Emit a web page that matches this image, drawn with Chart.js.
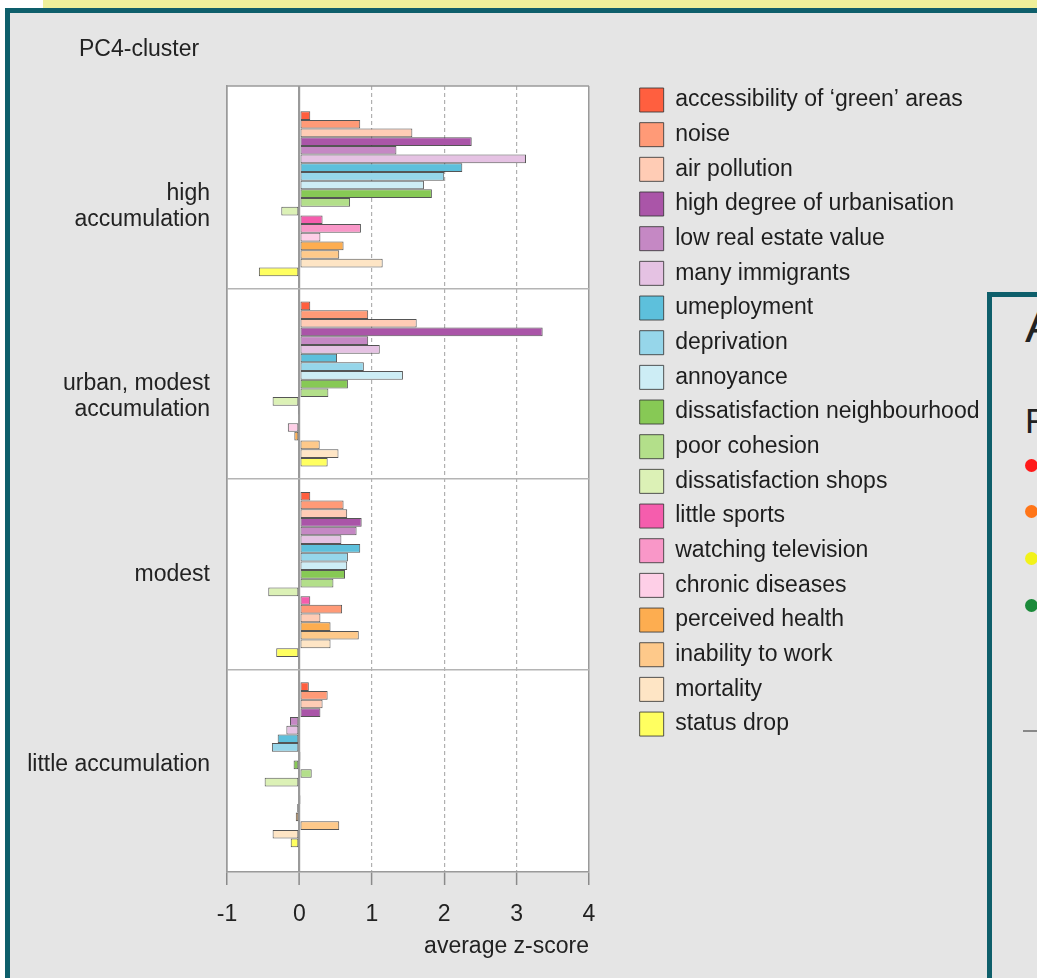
<!DOCTYPE html>
<html>
<head>
<meta charset="utf-8">
<script src="https://cdn.jsdelivr.net/npm/chart.js@4.4.1/dist/chart.umd.min.js"></script>
<style>
html, body { margin: 0; padding: 0; }
body { width: 1037px; height: 978px; overflow: hidden; position: relative; background: #ffffff; font-family: "Liberation Sans", Arial, sans-serif; }
#band { position: absolute; left: 43px; top: 0; width: 1000px; height: 8px; background: #eef09a; }
#frame { position: absolute; left: 5px; top: 8px; width: 1100px; height: 1100px; border-left: 5px solid #0e5f6b; border-top: 5px solid #0e5f6b; background: #e5e5e5; }
#c { position: absolute; left: 0; top: 0; }
#panel { position: absolute; left: 987px; top: 292px; width: 300px; height: 800px; border: 5px solid #0e5f6b; background: #e5e5e5; overflow: hidden; color: #222; }
#panel .big { position: absolute; left: 33px; top: 5px; font-size: 48px; line-height: 48px; }
#panel .mid { position: absolute; left: 33px; top: 106px; font-size: 35px; line-height: 35px; }
#panel .dot { position: absolute; left: 33px; width: 13px; height: 13px; border-radius: 50%; }
#panel .rule { position: absolute; left: 31px; top: 433px; width: 120px; height: 2px; background: #888; }
</style>
</head>
<body>
<div id="band"></div>
<div id="frame"></div>
<canvas id="c" width="1037" height="978"></canvas>
<div id="panel">
  <div class="big">A</div>
  <div class="mid">F</div>
  <div class="dot" style="top:162px;background:#ff1a1a"></div>
  <div class="dot" style="top:208px;background:#ff7518"></div>
  <div class="dot" style="top:255px;background:#f2f21a"></div>
  <div class="dot" style="top:302px;background:#1b8a3a"></div>
  <div class="rule"></div>
</div>
<script>
// ---- data ----
const categories = [['', 'high', 'accumulation'], ['', 'urban, modest', 'accumulation'], 'modest', 'little accumulation'];
const xTicks = [-1, 0, 1, 2, 3, 4];

const seriesNames = [
  'accessibility of \u2018green\u2019 areas', 'noise', 'air pollution', 'high degree of urbanisation',
  'low real estate value', 'many immigrants', 'umeployment', 'deprivation', 'annoyance',
  'dissatisfaction neighbourhood', 'poor cohesion', 'dissatisfaction shops', 'little sports',
  'watching television', 'chronic diseases', 'perceived health', 'inability to work', 'mortality', 'status drop'
];

const accessibilityGreen = [0.15, 0.15, 0.15, 0.13];
const noise              = [0.84, 0.95, 0.61, 0.39];
const airPollution       = [1.56, 1.62, 0.66, 0.32];
const urbanisation       = [2.38, 3.36, 0.86, 0.29];
const lowRealEstate      = [1.34, 0.95, 0.79, -0.13];
const manyImmigrants     = [3.13, 1.11, 0.58, -0.18];
const unemployment       = [2.25, 0.52, 0.84, -0.30];
const deprivation        = [2.00, 0.89, 0.67, -0.38];
const annoyance          = [1.72, 1.43, 0.66, 0.01];
const dissNeighbourhood  = [1.83, 0.67, 0.63, -0.08];
const poorCohesion       = [0.70, 0.40, 0.47, 0.17];
const dissShops          = [-0.25, -0.37, -0.43, -0.48];
const littleSports       = [0.32, -0.02, 0.15, 0.00];
const watchingTV         = [0.85, 0.00, 0.59, 0.01];
const chronicDiseases    = [0.29, -0.16, 0.29, -0.03];
const perceivedHealth    = [0.61, -0.07, 0.43, -0.05];
const inabilityToWork    = [0.55, 0.28, 0.82, 0.55];
const mortality          = [1.15, 0.54, 0.43, -0.37];
const statusDrop         = [-0.56, 0.39, -0.32, -0.12];

const seriesValues = [accessibilityGreen, noise, airPollution, urbanisation, lowRealEstate, manyImmigrants,
  unemployment, deprivation, annoyance, dissNeighbourhood, poorCohesion, dissShops, littleSports,
  watchingTV, chronicDiseases, perceivedHealth, inabilityToWork, mortality, statusDrop];

const seriesColors = ['#ff5f3f', '#ff9a77', '#ffccb5', '#aa55a8', '#c588c4', '#e5c2e3', '#5dc0dc', '#96d6ea',
  '#cdedf5', '#87c955', '#b3df8a', '#dcf1b6', '#f55dad', '#f997c8', '#fecfe7', '#fdad50', '#fec98a', '#fee5c5', '#ffff60'];

// colours of two bars in the 'modest' group differ in the original picture
const colorOverrides = { 13: { 2: '#ff9a77' }, 14: { 2: '#ffccb5' } };

// ---- layout ----
Chart.defaults.font.family = '"Liberation Sans", Arial, sans-serif';
Chart.defaults.font.size = 23;
Chart.defaults.color = '#222';

const W = 1037;
const plotLeft = 227, plotRight = 589;
const legendPad = 10.67, legendBox = 24, fontSize = 23, gapRight = 40;
const mctx = document.createElement('canvas').getContext('2d');
mctx.font = fontSize + 'px "Liberation Sans", Arial, sans-serif';
const maxText = Math.max(...seriesNames.map(n => mctx.measureText(n).width));
const legendWidth = legendPad + legendBox + fontSize / 2 + maxText + 10;
const padRight = W - plotRight - gapRight - legendWidth;

const datasets = seriesNames.map((name, s) => ({
  label: name,
  data: seriesValues[s].map((v, i) => ({ x: v, y: i })),
  backgroundColor: (c) => {
    const o = colorOverrides[s];
    if (c.type === 'data' && o && o[c.dataIndex]) return o[c.dataIndex];
    return seriesColors[s];
  },
  borderColor: 'rgba(55,55,55,0.85)',
  borderWidth: 1,
  borderSkipped: false,
  categoryPercentage: 0.8667,
  barPercentage: 1,
  xAxisID: 'x',
  yAxisID: 'y'
}));

const isDashed = (c) => c.type === 'tick' && c.tick && [1, 2, 3].includes(c.tick.value);

const framePlugin = {
  id: 'frame',
  beforeDraw(chart) {
    const { ctx, chartArea: a } = chart;
    ctx.save();
    ctx.fillStyle = '#ffffff';
    ctx.fillRect(a.left, a.top, a.right - a.left, a.bottom - a.top);
    ctx.restore();
  },
  beforeDatasetsDraw(chart) {
    const { ctx, chartArea: a } = chart;
    ctx.save();
    ctx.strokeStyle = '#9a9a9a';
    ctx.lineWidth = 1.5;
    ctx.beginPath();
    ctx.moveTo(a.left, a.top);
    ctx.lineTo(a.right, a.top);
    ctx.stroke();
    ctx.restore();
  },
  afterDraw(chart) {
    const { ctx } = chart;
    ctx.save();
    ctx.fillStyle = '#222';
    ctx.font = '23px "Liberation Sans", Arial, sans-serif';
    ctx.textBaseline = 'middle';
    ctx.textAlign = 'left';
    ctx.fillText('PC4-cluster', 79, 50);
    ctx.restore();
  }
};

new Chart(document.getElementById('c'), {
  type: 'bar',
  data: { datasets },
  plugins: [framePlugin],
  options: {
    responsive: false,
    animation: false,
    events: [],
    devicePixelRatio: 1,
    indexAxis: 'y',
    layout: { padding: { left: 0, top: 77.33, right: padRight, bottom: 13.2 } },
    plugins: {
      tooltip: { enabled: false },
      legend: {
        position: 'right',
        align: 'start',
        maxWidth: 600,
        labels: { boxWidth: legendBox, boxHeight: legendBox, padding: legendPad, color: '#1e1e1e', font: { size: fontSize } }
      }
    },
    scales: {
      x: {
        type: 'linear',
        position: 'bottom',
        min: -1,
        max: 4,
        afterBuildTicks: (s) => { s.ticks = xTicks.map(v => ({ value: v })); },
        ticks: { color: '#222', font: { size: 23 }, padding: 16.2 },
        grid: {
          color: (c) => isDashed(c) ? '#b0b0b0' : '#9a9a9a',
          lineWidth: (c) => (c.type === 'tick' && c.tick && c.tick.value === 0) ? 2.2 : (isDashed(c) ? 1.2 : 1.5),
          drawTicks: true,
          tickLength: 13,
          tickColor: '#8a8a8a',
          tickWidth: 1.5
        },
        border: { display: true, color: '#9a9a9a', width: 1.5, dash: (c) => isDashed(c) ? [4, 3] : [] },
        title: { display: true, text: 'average z-score', align: 'end', color: '#222', font: { size: 23 }, padding: { top: -11.8, bottom: 4 } }
      },
      y: {
        type: 'linear',
        position: 'left',
        reverse: true,
        offset: false,
        min: -0.5657,
        max: 3.5631,
        afterBuildTicks: (s) => { s.ticks = categories.map((c, i) => ({ value: i })); },
        afterFit: (s) => { s.width = plotLeft; },
        ticks: { color: '#222', font: { size: 23, lineHeight: 1.11 }, padding: 17, callback: (v) => categories[v] },
        grid: {
          offset: true,
          drawTicks: false,
          color: (c) => (c.type === 'tick' && c.index >= 1) ? '#b4b4b4' : 'rgba(0,0,0,0)',
          lineWidth: 1.5
        },
        border: { display: true, color: '#9a9a9a', width: 1.5 }
      },
      xTop: {
        type: 'linear', position: 'top', display: true,
        grid: { display: false }, ticks: { display: false }, border: { display: false },
        afterFit: (s) => { s.height = 8.67; }
      },
      yRight: {
        type: 'linear', position: 'right', display: true,
        grid: { display: false }, ticks: { display: false }, border: { display: false },
        afterFit: (s) => { s.width = gapRight; }
      }
    }
  }
});
</script>
</body>
</html>
